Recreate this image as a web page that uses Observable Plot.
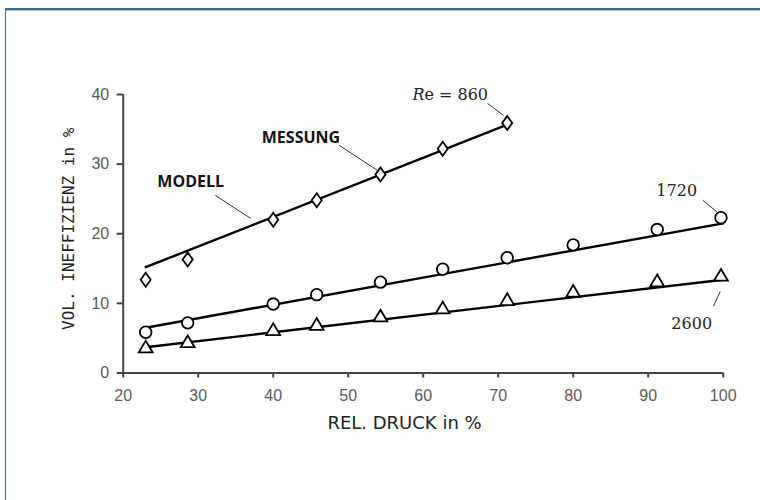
<!DOCTYPE html>
<html><head><meta charset="utf-8">
<script src="https://cdn.jsdelivr.net/npm/d3@7"></script>
<script src="https://cdn.jsdelivr.net/npm/@observablehq/plot@0.6"></script>
<style>
html,body{margin:0;padding:0;background:#fff;}
#wrap{position:relative;width:760px;height:500px;overflow:hidden;background:#fff;}
#frame{position:absolute;left:5px;top:8px;width:900px;height:700px;border-top:2px solid #3d6a8e;border-left:1.5px solid #3d6a8e;box-shadow:inset 0 1px 0 #a9bfd0;}
#chart{position:absolute;left:0;top:0;}
</style></head><body>
<div id="wrap"><div id="frame"></div><div id="chart"></div></div>
<script>
// ---- data ----
const pressure = [23, 28.6, 40, 45.8, 54.3, 62.6, 71.2, 80, 91.2, 99.7];
const ineff860 = [13.4, 16.3, 22.0, 24.8, 28.5, 32.2, 35.9];
const ineff1720 = [5.85, 7.2, 9.9, 11.25, 13.05, 14.9, 16.55, 18.4, 20.6, 22.3];
const ineff2600 = [3.8, 4.55, 6.3, 7.05, 8.25, 9.4, 10.6, 11.8, 13.3, 14.1];

const model860P = [23, 71.3], model860V = [15.2, 35.7];
const model1720P = [23, 100], model1720V = [6.5, 21.5];
const model2600P = [23, 100], model2600V = [3.7, 13.4];

const xTicks = [20, 30, 40, 50, 60, 70, 80, 90, 100];
const yTicks = [0, 10, 20, 30, 40];
const xTitle = "REL. DRUCK in %";
const yTitle = "VOL. INEFFIZIENZ in %";

// annotations (data coordinates)
const reText = ["Re = 860", "1720", "2600"];
const reX = [63.6, 93.8, 95.8];
const reY = [39.9, 26.2, 7.1];
const tagText = ["MODELL", "MESSUNG"];
const tagX = [29.0, 43.7];
const tagY = [27.4, 33.8];
const leadX1 = [32.3, 48.8, 68.6, 97.3, 98.7];
const leadY1 = [25.5, 32.7, 38.7, 24.8, 9.6];
const leadX2 = [37.0, 53.9, 70.7, 99.2, 99.6];
const leadY2 = [22.2, 29.1, 37.0, 23.1, 11.7];

// ---- tables ----
const pts860 = ineff860.map((v, i) => ({x: pressure[i], y: v}));
const pts1720 = ineff1720.map((v, i) => ({x: pressure[i], y: v}));
const pts2600 = ineff2600.map((v, i) => ({x: pressure[i], y: v}));
const lines = [
  ...model860P.map((p, i) => ({x: p, y: model860V[i], s: "860"})),
  ...model1720P.map((p, i) => ({x: p, y: model1720V[i], s: "1720"})),
  ...model2600P.map((p, i) => ({x: p, y: model2600V[i], s: "2600"}))
];
const leaders = leadX1.map((d, i) => ({x1: d, y1: leadY1[i], x2: leadX2[i], y2: leadY2[i]}));
const reLabels = reText.map((t, i) => ({t, x: reX[i], y: reY[i]}));
const tags = tagText.map((t, i) => ({t, x: tagX[i], y: tagY[i]}));

// custom symbols
const tallDiamond = {draw(ctx, size) {
  const r = Math.sqrt(size / Math.PI);
  const w = r * 0.72;
  ctx.moveTo(0, -r); ctx.lineTo(w, 0); ctx.lineTo(0, r); ctx.lineTo(-w, 0); ctx.closePath();
}};
const upTriangle = {draw(ctx, size) {
  const r = Math.sqrt(size / Math.PI);
  const w = r * 1.12, h = r * 0.95;
  ctx.moveTo(0, -h); ctx.lineTo(w, h); ctx.lineTo(-w, h); ctx.closePath();
}};

const dotStyle = {x: "x", y: "y", fill: "white", stroke: "black", strokeWidth: 1.8};

const chart = Plot.plot({
  width: 760, height: 500,
  marginLeft: 122.7, marginRight: 37.3, marginTop: 94, marginBottom: 127.5,
  x: {domain: [20, 100]},
  y: {domain: [0, 40]},
  style: {background: "transparent", fontFamily: "Liberation Sans", overflow: "visible"},
  marks: [
    Plot.axisX({ticks: xTicks, tickSize: 5, tickPadding: 12, stroke: "#444", fill: "#5a5a5a", strokeWidth: 2, fontSize: 16, label: null}),
    Plot.axisY({ticks: yTicks, tickSize: 6, tickPadding: 8, stroke: "#444", fill: "#5a5a5a", strokeWidth: 2, fontSize: 16, label: null}),
    Plot.ruleY([0], {stroke: "#444", strokeWidth: 2}),
    Plot.ruleX([20], {stroke: "#444", strokeWidth: 2}),
    Plot.line(lines, {x: "x", y: "y", z: "s", stroke: "black", strokeWidth: 2.4}),
    Plot.link(leaders, {x1: "x1", y1: "y1", x2: "x2", y2: "y2", stroke: "#333", strokeWidth: 1}),
    Plot.dot(pts860, {...dotStyle, symbol: tallDiamond, r: 7}),
    Plot.dot(pts1720, {...dotStyle, symbol: "circle", r: 5.8}),
    Plot.dot(pts2600, {...dotStyle, symbol: upTriangle, r: 6.2}),
    Plot.text(reLabels, {x: "x", y: "y", text: "t", fontFamily: "DejaVu Serif", fontSize: 16, fill: "#222", textAnchor: "middle", lineAnchor: "middle"}),
    Plot.text(tags, {x: "x", y: "y", text: "t", fontFamily: "Open Sans", fontWeight: "bold", fontSize: 16, fill: "#111", textAnchor: "middle", lineAnchor: "middle"}),
    Plot.text([xTitle], {frameAnchor: "bottom", dx: -18.7, dy: 50.5, fontFamily: "DejaVu Sans", fontSize: 18, fill: "#222", textAnchor: "middle", lineAnchor: "middle"}),
    Plot.text([yTitle], {frameAnchor: "left", dx: -54, dy: -5, rotate: -90, fontFamily: "DejaVu Sans Mono", fontSize: 16, fill: "#222", textAnchor: "middle", lineAnchor: "middle"})
  ]
});
document.getElementById("chart").appendChild(chart);

// italic R in "Re = 860"
d3.select(chart).selectAll("text").each(function() {
  const el = d3.select(this);
  if (el.text() === "Re = 860") {
    el.text(null);
    el.append("tspan").attr("font-style", "italic").text("R");
    el.append("tspan").text("e = 860");
  }
});
</script>
</body></html>
